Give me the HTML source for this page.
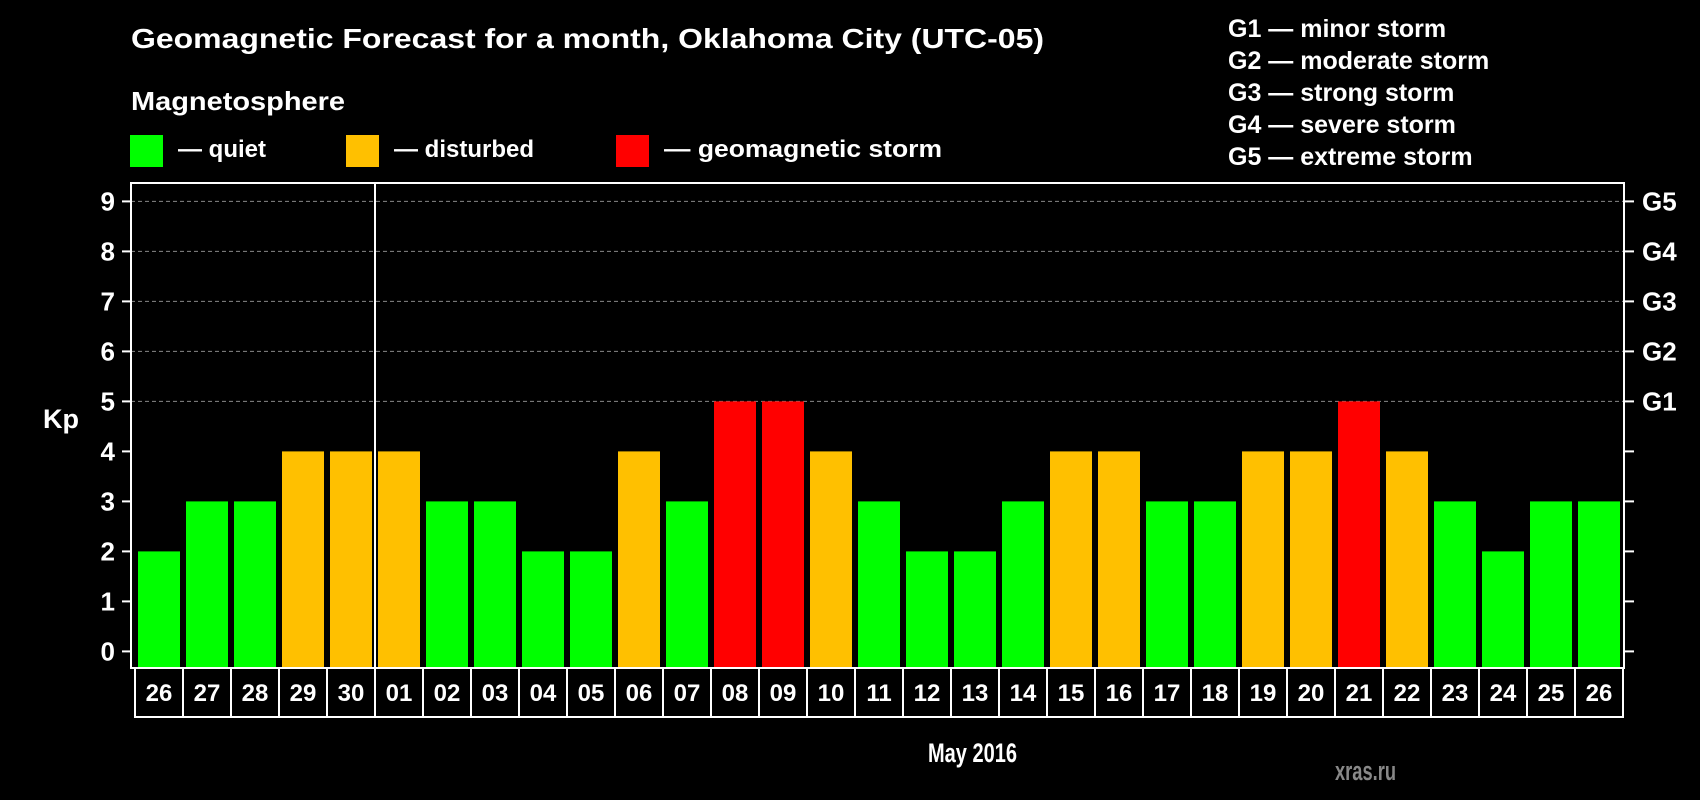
<!DOCTYPE html>
<html><head><meta charset="utf-8"><style>
html,body{margin:0;padding:0;background:#000;width:1700px;height:800px;overflow:hidden}
svg{display:block;font-family:"Liberation Sans",Arial,sans-serif;font-weight:bold}
</style></head><body>
<svg id="chart" width="1700" height="800" viewBox="0 0 1700 800">
<rect x="0" y="0" width="1700" height="800" fill="#000"/>
<text x="131" y="48" fill="#fff" font-size="28" textLength="913" lengthAdjust="spacingAndGlyphs">Geomagnetic Forecast for a month, Oklahoma City (UTC-05)</text>
<text x="131" y="110" fill="#fff" font-size="26" textLength="214" lengthAdjust="spacingAndGlyphs">Magnetosphere</text>
<g>
<rect x="130" y="135" width="33" height="32" fill="#00ff00"/>
<text x="178" y="157" fill="#fff" font-size="24">— quiet</text></g>
<g>
<rect x="346" y="135" width="33" height="32" fill="#ffc000"/>
<text x="394" y="157" fill="#fff" font-size="24">— disturbed</text></g>
<g>
<rect x="616" y="135" width="33" height="32" fill="#ff0000"/>
<text x="664" y="157" fill="#fff" font-size="24" textLength="278" lengthAdjust="spacingAndGlyphs">— geomagnetic storm</text></g>
<g font-size="25" fill="#fff">
<text x="1228" y="37">G1 — minor storm</text>
<text x="1228" y="69">G2 — moderate storm</text>
<text x="1228" y="101">G3 — strong storm</text>
<text x="1228" y="133">G4 — severe storm</text>
<text x="1228" y="165">G5 — extreme storm</text>
</g>
<text x="43" y="428" fill="#fff" font-size="27">Kp</text>
<text x="928" y="762" fill="#fff" font-size="27" textLength="89" lengthAdjust="spacingAndGlyphs">May 2016</text>
<text x="1335" y="780" fill="#888" font-size="27" textLength="61" lengthAdjust="spacingAndGlyphs">xras.ru</text>
<g id="grid"></g><g id="bars"></g><g id="axes"></g><g id="xlabels"></g>
</svg>
<script>
const days = ["26","27","28","29","30","01","02","03","04","05","06","07","08","09","10","11","12","13","14","15","16","17","18","19","20","21","22","23","24","25","26"];
const kpValues = [2,3,3,4,4,4,3,3,2,2,4,3,5,5,4,3,2,2,3,4,4,3,3,4,4,5,4,3,2,3,3];
const yTicks = [0,1,2,3,4,5,6,7,8,9];
const gLabels = ["","","","","","G1","G2","G3","G4","G5"];
const monthStartIndex = 5;

const NS = "http://www.w3.org/2000/svg";
const L = 131, R = 1624, T = 183, B = 668;
const x0 = 135, step = 48;
function yScale(v){ return 651.4 - 50 * v; }
function xScale(i){ return x0 + step * i; }
function mk(tag, attrs, parent){ const e = document.createElementNS(NS, tag); for (const k in attrs) e.setAttribute(k, attrs[k]); parent.appendChild(e); return e; }
function color(v){ return v >= 5 ? "#ff0000" : v >= 4 ? "#ffc000" : "#00ff00"; }

const grid = document.getElementById("grid");
yTicks.forEach(v => {
  if (v >= 5) {
    const g = mk("line", {x1: L, x2: R, y1: yScale(v), y2: yScale(v), stroke: "#888", "stroke-width": 1, "stroke-dasharray": "4,3"}, grid);
    
    
  }
});

const bars = document.getElementById("bars");
kpValues.forEach((v, i) => {
  const r = mk("rect", {x: xScale(i) + 3, y: yScale(v), width: 42, height: B - yScale(v), fill: color(v)}, bars);
  
  
});

const axes = document.getElementById("axes");
const frame = mk("rect", {x: L, y: T, width: R - L, height: B - T, fill: "none", stroke: "#fff", "stroke-width": 2}, axes);


const sep = mk("line", {x1: xScale(monthStartIndex), x2: xScale(monthStartIndex), y1: T, y2: B, stroke: "#fff", "stroke-width": 2}, axes);


yTicks.forEach((v, i) => {
  const y = yScale(v);
  const t1 = mk("line", {x1: L - 9, x2: L, y1: y, y2: y, stroke: "#fff", "stroke-width": 2}, axes);
  
  
  const t2 = mk("line", {x1: R, x2: R + 10, y1: y, y2: y, stroke: "#fff", "stroke-width": 2}, axes);
  
  
  const lab = mk("text", {x: 115, y: y + 9, fill: "#fff", "font-size": 26, "text-anchor": "end"}, axes);
  lab.textContent = String(v);
  
  
  if (gLabels[i]) {
    const gl = mk("text", {x: 1642, y: y + 9, fill: "#fff", "font-size": 26}, axes);
    gl.textContent = gLabels[i];
    
    
  }
});

const xl = document.getElementById("xlabels");
days.forEach((d, i) => {
  const bx = mk("rect", {x: xScale(i), y: B, width: step, height: 49, fill: "#000", stroke: "#fff", "stroke-width": 2}, xl);
  
  
  const t = mk("text", {x: xScale(i) + step / 2, y: B + 33, fill: "#fff", "font-size": 24, "text-anchor": "middle"}, xl);
  t.textContent = d;
  
  
});
</script>
</body></html>
